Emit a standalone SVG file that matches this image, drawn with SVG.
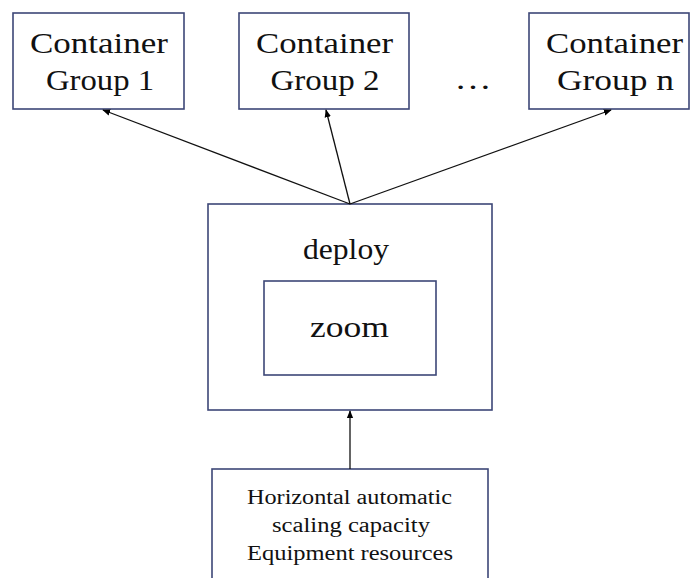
<svg xmlns="http://www.w3.org/2000/svg" width="692" height="578" viewBox="0 0 692 578">
<defs>
<marker id="ah" viewBox="0 0 10 10" refX="9" refY="5" markerWidth="8" markerHeight="8" markerUnits="userSpaceOnUse" orient="auto">
<path d="M0,1 L10,5 L0,9 z" fill="#000"/>
</marker>
</defs>
<style>
.box{fill:#fff;stroke:#3d4777;stroke-width:1.6}
.t{font-family:'Liberation Serif','Times New Roman','Tinos',serif;fill:#111;text-anchor:middle}
.big{font-size:29px}
.small{font-size:20px}
.edge{stroke:#111;stroke-width:1.3;fill:none;marker-end:url(#ah)}
</style>
<rect width="692" height="578" fill="#fff"/>
<g id="cg1">
<rect class="box" x="13" y="13" width="171" height="96"/>
<text class="t big" font-family="Liberation Serif" x="99" y="53" textLength="138" lengthAdjust="spacingAndGlyphs">Container</text>
<text class="t big" font-family="Liberation Serif" x="100" y="90" textLength="108" lengthAdjust="spacingAndGlyphs">Group 1</text>
</g>
<g id="cg2">
<rect class="box" x="239" y="13" width="170" height="96"/>
<text class="t big" font-family="Liberation Serif" x="324.5" y="53" textLength="137" lengthAdjust="spacingAndGlyphs">Container</text>
<text class="t big" font-family="Liberation Serif" x="325" y="90" textLength="109" lengthAdjust="spacingAndGlyphs">Group 2</text>
</g>
<g id="ellipsis">
<text class="t big" font-family="Liberation Serif" x="473" y="89" textLength="37" lengthAdjust="spacingAndGlyphs">…</text>
</g>
<g id="cgn">
<rect class="box" x="529" y="13" width="160" height="96"/>
<text class="t big" font-family="Liberation Serif" x="614.5" y="53" textLength="137" lengthAdjust="spacingAndGlyphs">Container</text>
<text class="t big" font-family="Liberation Serif" x="615.5" y="90" textLength="117" lengthAdjust="spacingAndGlyphs">Group n</text>
</g>
<g id="deploy">
<rect class="box" x="208" y="204" width="284" height="206"/>
<text class="t big" font-family="Liberation Serif" x="346" y="259" textLength="86" lengthAdjust="spacingAndGlyphs">deploy</text>
</g>
<g id="zoom">
<rect class="box" x="264" y="281" width="172" height="94"/>
<text class="t big" font-family="Liberation Serif" x="349.5" y="337" textLength="79" lengthAdjust="spacingAndGlyphs">zoom</text>
</g>
<g id="scaling">
<rect class="box" x="212" y="469" width="276" height="120"/>
<text class="t small" font-family="Liberation Serif" x="349.5" y="504" textLength="205" lengthAdjust="spacingAndGlyphs">Horizontal automatic</text>
<text class="t small" font-family="Liberation Serif" x="351" y="532" textLength="158" lengthAdjust="spacingAndGlyphs">scaling capacity</text>
<text class="t small" font-family="Liberation Serif" x="350" y="560" textLength="206" lengthAdjust="spacingAndGlyphs">Equipment resources</text>
</g>
<g id="connectors">
<line class="edge" x1="350" y1="204" x2="103" y2="110"/>
<line class="edge" x1="350" y1="204" x2="326" y2="110"/>
<line class="edge" x1="350" y1="204" x2="611" y2="110"/>
<line class="edge" x1="350" y1="469" x2="350" y2="411"/>
</g>
</svg>
